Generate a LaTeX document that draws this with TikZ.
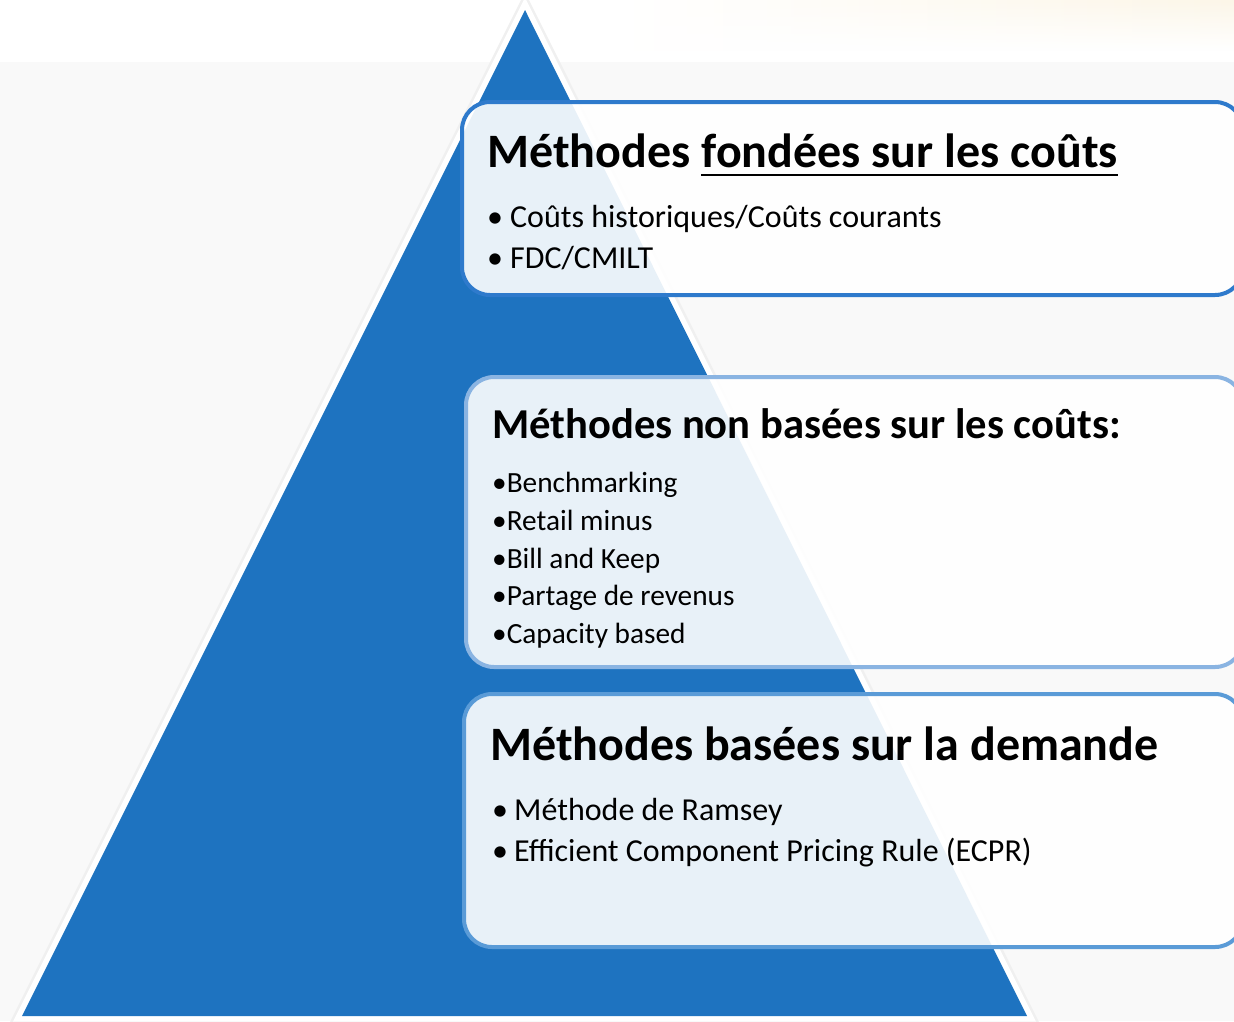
\documentclass[tikz,border=0pt]{standalone}
\usepackage{fontspec}
\setmainfont{Carlito}
\usetikzlibrary{fadings}
\definecolor{triblue}{RGB}{30,115,192}
\definecolor{bordA}{RGB}{46,122,204}
\definecolor{bordB}{RGB}{138,180,226}
\definecolor{bordC}{RGB}{90,155,215}
\definecolor{cream}{RGB}{252,246,232}
\definecolor{patgray}{RGB}{249,249,249}
\tikzset{
  panel/.style={rounded corners=28pt, line width=4pt, fill=white, fill opacity=0.9},
  ttl/.style={anchor=base west, inner sep=0pt},
  itm/.style={anchor=base west, inner sep=0pt},
}
\newcommand{\bul}[1]{\makebox[#1][l]{•}}
\begin{document}
\begin{tikzpicture}[x=1pt,y=-1pt]
\useasboundingbox (0,0) rectangle (1234,1021);
% background
\fill[white] (0,0) rectangle (1234,1021);
\fill[patgray] (0,62) rectangle (1234,1021);
\shade[left color=white, right color=cream, path fading=south] (620,0) rectangle (1234,50);
% pyramid
\coordinate (apex) at (525,10);
\coordinate (bl) at (22,1016);
\coordinate (br) at (1027,1016);
\draw[black!6, line width=16pt, line join=miter] (apex) -- (bl) -- (br) -- cycle;
\draw[white, line width=11pt, line join=miter] (apex) -- (bl) -- (br) -- cycle;
\fill[triblue] (apex) -- (bl) -- (br) -- cycle;
% panels
\draw[panel, draw=bordA] (462,102) rectangle (1243,295);
\draw[panel, draw=bordB] (466,377) rectangle (1243,667);
\draw[panel, draw=bordC] (464,694) rectangle (1243,947);
% texts panel 1
\node[ttl, font=\bfseries\fontsize{48}{54}\selectfont] (t1a) at (487,167) {Méthodes};
\node[ttl, font=\bfseries\fontsize{48}{54}\selectfont, xshift=11pt] (t1b) at (t1a.base east) {fondées sur les coûts};
\draw[line width=2.8pt] ([yshift=-8pt]t1b.base west) -- ([yshift=-8pt]t1b.base east);
\node[itm, font=\fontsize{32}{38}\selectfont] (a1) at (487,227) {\bul{23pt}Coûts historiques/Coûts courants};
\node[itm, font=\fontsize{32}{38}\selectfont] (a2) at (487,268) {\bul{23pt}FDC/CMILT};
% texts panel 2
\node[ttl, font=\bfseries\fontsize{42.6}{48}\selectfont] (t2) at (492,438) {Méthodes non basées sur les coûts:};
\node[itm, font=\fontsize{29.3}{34}\selectfont] (b1) at (492,492) {•Benchmarking};
\node[itm, font=\fontsize{29.3}{34}\selectfont] (b2) at (492,530) {•Retail minus};
\node[itm, font=\fontsize{29.3}{34}\selectfont] (b3) at (492,568) {•Bill and Keep};
\node[itm, font=\fontsize{29.3}{34}\selectfont] (b4) at (492,605) {•Partage de revenus};
\node[itm, font=\fontsize{29.3}{34}\selectfont] (b5) at (492,643) {•Capacity based};
% texts panel 3
\node[ttl, font=\bfseries\fontsize{48}{54}\selectfont] (t3) at (490,760) {Méthodes basées sur la demande};
\node[itm, font=\fontsize{32}{38}\selectfont] (c1) at (492,820) {\bul{22pt}Méthode de Ramsey};
\node[itm, font=\fontsize{32}{38}\selectfont] (c2) at (492,861) {\bul{22pt}Efficient Component Pricing Rule (ECPR)};
\end{tikzpicture}
\end{document}
